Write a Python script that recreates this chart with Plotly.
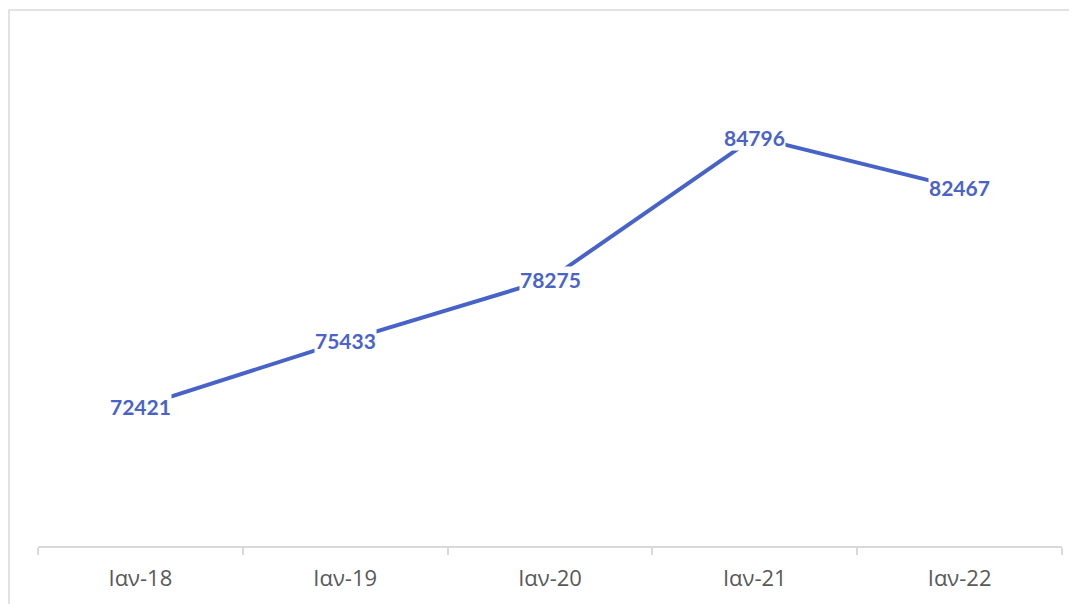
import plotly.graph_objects as go

categories = ["Ιαν-18", "Ιαν-19", "Ιαν-20", "Ιαν-21", "Ιαν-22"]
values = [72421, 75433, 78275, 84796, 82467]

LINE_COLOR = "#4763C8"
TEXT_COLOR = "#4A63C8"

fig = go.Figure()
fig.add_trace(go.Scatter(
    x=categories, y=values, mode="lines",
    line=dict(color=LINE_COLOR, width=4),
    hoverinfo="x+y", showlegend=False,
))

for c, v in zip(categories, values):
    fig.add_annotation(
        x=c, y=v, text=str(v), showarrow=False,
        bgcolor="white", borderpad=0,
        font=dict(family="Lato, 'Open Sans', sans-serif", size=21, color=TEXT_COLOR, weight="bold"),
        xanchor="center", yanchor="middle",
    )

# outer chart border (extends beyond the visible area right/bottom)
fig.add_shape(type="rect", xref="paper", yref="paper",
              x0=-0.0283, x1=1.2, y0=-0.3, y1=1.0268,
              line=dict(color="#D9D9D9", width=1.5), layer="below")

fig.update_layout(
    width=1077, height=604,
    margin=dict(l=30, r=23, t=16, b=66),
    paper_bgcolor="white", plot_bgcolor="white",
    xaxis=dict(
        type="category", range=[-0.5, 4.5],
        showline=True, linecolor="#D9D9D9", linewidth=1.5,
        ticks="outside", tickson="boundaries", ticklen=7, tickcolor="#D9D9D9", tickwidth=1.5,
        ticklabelstandoff=12,
        showgrid=False, zeroline=False,
        tickfont=dict(family="'Open Sans', sans-serif", size=22, color="#595959"),
    ),
    yaxis=dict(range=[66000, 90000], visible=False, showgrid=False, zeroline=False),
)

fig.write_html("out.html")
